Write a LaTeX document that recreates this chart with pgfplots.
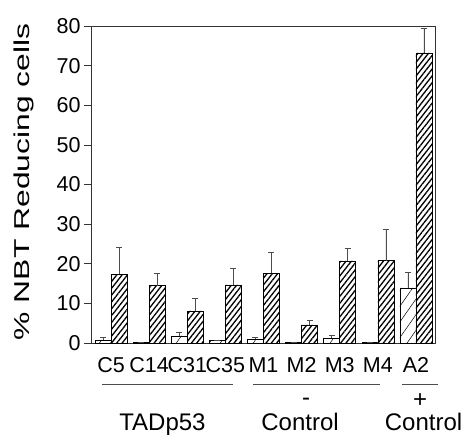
\documentclass[border=0pt]{standalone}
\usepackage{fontspec}
\setmainfont{Liberation Sans}
\usepackage{graphicx}
\usepackage{pgfplots}
\usepackage{pgfplotstable}
\pgfplotsset{compat=1.18}
\usetikzlibrary{patterns.meta}

% group, light bar, its error, dense bar, its error
\pgfplotstableread{
x light lerr dense derr
0 0.8  0.6  17.3 6.9
1 0.2  0.0  14.5 3.0
2 1.8  0.9  8.1  3.3
3 0.6  0.0  14.7 4.2
4 0.9  0.5  17.6 5.3
5 0.3  0.0  4.6  1.2
6 1.2  0.8  20.7 3.1
7 0.2  0.0  20.8 7.9
8 13.9 3.9  73.2 6.3
}\nbtdata

\begin{document}
\begin{tikzpicture}
\begin{axis}[
    scale only axis,
    width=344pt, height=317pt,
    ymin=0, ymax=80,
    ytick={0,10,...,80},
    xmin=-0.525, xmax=8.5,
    xtick=data,
    xticklabels={C5,C14,C31,C35,M1,M2,M3,M4,A2},
    xticklabel style={yshift=-4pt},
    ybar=0pt, bar width=16pt,
    axis line style={black!80, line width=0.6pt},
    tick align=outside, ytick pos=left,
    major tick length=7pt,
    ytick style={black!80, line width=0.5pt},
    xtick style={draw=none},
    font=\fontsize{21.5}{24}\selectfont,
    /pgf/number format/assume math mode=true,
    ylabel={\scalebox{1.48}[1]{\% NBT Reducing cells}},
    ylabel style={at={(axis description cs:-0.195,0.508)}, anchor=center},
    clip=false,
    error bars/y dir=plus,
    error bars/y explicit,
    error bars/error bar style={black!70, line width=0.5pt},
    error bars/error mark options={rotate=90, mark size=3pt, black!70, line width=0.5pt},
]
\addplot[draw=black, line width=0.5pt, fill=white,
  postaction={pattern={Lines[angle=55,distance=9pt,line width=0.5pt]}}]
  table[x=x, y=light, y error=lerr] {\nbtdata};
\addplot[draw=black, line width=0.5pt, fill=white,
  postaction={pattern={Lines[angle=52,distance=4.2pt,line width=1.3pt]}}]
  table[x=x, y=dense, y error=derr] {\nbtdata};

% group annotations
\draw[black!70, line width=0.5pt] (axis cs:-0.24,-10.35) -- (axis cs:3.20,-10.35);
\draw[black!70, line width=0.5pt] (axis cs:3.73,-10.35) -- (axis cs:7.06,-10.35);
\draw[black!70, line width=0.5pt] (axis cs:7.64,-10.35) -- (axis cs:8.58,-10.35);
\begin{scope}[font=\fontsize{24}{26}\selectfont]
\node at (axis cs:5.12,-14.8) {-};
\node at (axis cs:8.11,-14.6) {+};
\node[anchor=base] at (axis cs:1.35,-22.2) {TADp53};
\node[anchor=base] at (axis cs:4.96,-22.2) {Control};
\node[anchor=base] at (axis cs:8.2,-22.2) {Control};
\end{scope}
\end{axis}
\pgfresetboundingbox
\path[use as bounding box] ([xshift=-91pt,yshift=-95pt]current axis.south west) rectangle ++(465pt,438pt);
\end{tikzpicture}
\end{document}
